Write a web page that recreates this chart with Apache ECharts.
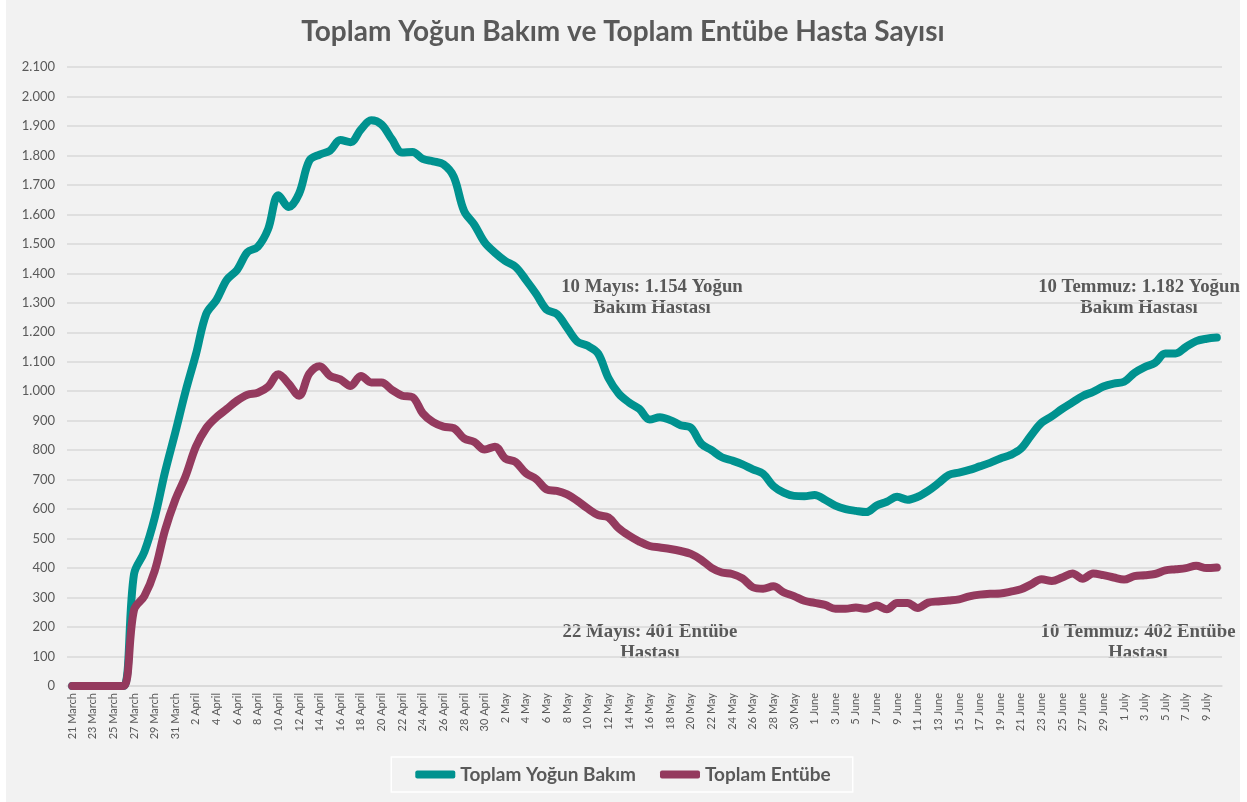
<!DOCTYPE html>
<html>
<head>
<meta charset="utf-8">
<script src="https://cdn.jsdelivr.net/npm/echarts@6/dist/echarts.min.js"></script>
<style>
    html, body { margin: 0; padding: 0; background: #ffffff; }
    #chart { position: absolute; left: 6px; top: 0; width: 1234px; height: 802px; background: #f2f2f2; }
</style>
</head>
<body>
<div id="chart"></div>
<script>
    // date labels: 21 March .. 10 July
    const months = [
        { name: 'March', from: 21, to: 31 },
        { name: 'April', from: 1, to: 30 },
        { name: 'May', from: 1, to: 31 },
        { name: 'June', from: 1, to: 30 },
        { name: 'July', from: 1, to: 10 },
    ];
    const categories = [];
    months.forEach((m) => {
        for (let d = m.from; d <= m.to; d++) categories.push(d + ' ' + m.name);
    });

    const seriesNames = ['Toplam Yoğun Bakım', 'Toplam Entübe'];
    const seriesColors = ['#00928f', '#943a5e'];

    const yogunBakim = [
        0, 0, 0, 0, 0, 0, 380, 455, 570, 725, 860,
        1000, 1125, 1262, 1310, 1378, 1412, 1472, 1490, 1550, 1665,
        1625, 1670, 1782, 1803, 1816, 1852, 1845, 1888, 1919, 1905,
        1855, 1810, 1812, 1788, 1780, 1770, 1728, 1612, 1565, 1505,
        1470, 1442, 1422, 1378, 1330, 1277, 1262, 1215, 1168, 1154,
        1128, 1045, 992, 962, 940, 904, 912, 902, 885, 876,
        822, 800, 776, 765, 752, 735, 720, 678, 656, 645, 644,
        648, 632, 612, 600, 594, 590, 612, 625, 642, 632,
        642, 662, 688, 716, 724, 733, 745, 757, 772, 784,
        805, 851, 893, 915, 940, 962, 984, 998, 1016, 1026,
        1032, 1062, 1082, 1096, 1128, 1128, 1150, 1170, 1178, 1182,
    ];

    const entube = [
        0, 0, 0, 0, 0, 0, 258, 305, 390, 528, 632,
        712, 812, 875, 912, 940, 968, 988, 995, 1015, 1058,
        1025, 985, 1060, 1085, 1052, 1040, 1018, 1052, 1030, 1030,
        1005, 985, 980, 925, 895, 880, 875, 840, 828, 802,
        812, 772, 760, 722, 702, 667, 662, 650, 628, 602,
        580, 572, 535, 510, 490, 475, 470, 465, 458, 448,
        428, 401, 385, 380, 365, 335, 330, 338, 318, 305, 289,
        282, 275, 262, 262, 266, 262, 273, 260, 282, 282,
        265, 283, 287, 290, 294, 304, 310, 313, 314, 320,
        328, 345, 362, 356, 368, 382, 364, 382, 376, 368,
        361, 373, 376, 380, 392, 396, 400, 408, 400, 402,
    ];

    const notes = [
        { lines: ['10 Mayıs: 1.154 Yoğun', 'Bakım Hastası'], x: 646, y: 277 },
        { lines: ['10 Temmuz: 1.182 Yoğun', 'Bakım Hastası'], x: 1133, y: 277 },
        { lines: ['22 Mayıs: 401 Entübe', 'Hastası'], x: 644, y: 622 },
        { lines: ['10 Temmuz: 402 Entübe', 'Hastası'], x: 1132, y: 622 },
    ];

    const textColor = '#595959';
    const fmt = (v) => String(v).replace(/\B(?=(\d{3})+(?!\d))/g, '.');

    const chart = echarts.init(document.getElementById('chart'));
    chart.setOption({
        backgroundColor: '#f2f2f2',
        animation: false,
        title: {
            text: 'Toplam Yoğun Bakım ve Toplam Entübe Hasta Sayısı',
            left: 'center',
            top: 13,
            textStyle: { fontFamily: 'Lato', fontSize: 28, fontWeight: 'bold', color: textColor },
        },
        legend: {
            data: seriesNames,
            left: 'center',
            top: 757,
            itemWidth: 40,
            itemHeight: 8,
            itemGap: 24,
            padding: [8, 22, 8, 24],
            borderColor: '#ffffff',
            borderWidth: 1.5,
            icon: 'roundRect',
            textStyle: { fontFamily: 'Lato', fontSize: 19, fontWeight: 'bold', color: textColor },
        },
        grid: { left: 61, right: 18, top: 67, bottom: 116, containLabel: false },
        xAxis: {
            type: 'category',
            data: categories,
            boundaryGap: true,
            axisLine: { lineStyle: { color: '#d9d9d9', width: 1.5 } },
            axisTick: { interval: 1, length: 5, lineStyle: { color: '#d9d9d9' } },
            axisLabel: {
                interval: 1,
                rotate: 90,
                fontFamily: 'Lato',
                fontSize: 11,
                color: textColor,
                margin: 7,
            },
        },
        yAxis: {
            type: 'value',
            min: 0,
            max: 2100,
            interval: 100,
            axisLine: { show: false },
            axisTick: { show: false },
            splitLine: { lineStyle: { color: '#d9d9d9', width: 1.5 } },
            axisLabel: {
                fontFamily: 'Lato',
                fontSize: 13,
                color: textColor,
                margin: 12,
                formatter: fmt,
            },
        },
        series: [
            {
                name: seriesNames[0],
                type: 'line',
                data: yogunBakim,
                smooth: 0.35,
                showSymbol: false,
                color: seriesColors[0],
                lineStyle: { width: 8, cap: 'round', join: 'round' },
            },
            {
                name: seriesNames[1],
                type: 'line',
                data: entube,
                smooth: 0.35,
                showSymbol: false,
                color: seriesColors[1],
                lineStyle: { width: 8, cap: 'round', join: 'round' },
            },
        ],
        graphic: notes.map((n) => ({
            type: 'text',
            x: n.x,
            y: n.y,
            style: {
                text: n.lines.join('\n'),
                align: 'center',
                verticalAlign: 'top',
                fontFamily: 'Liberation Serif',
                fontWeight: 'bold',
                fontSize: 18.8,
                lineHeight: 21,
                fill: textColor,
            },
        })),
    });
</script>
</body>
</html>
